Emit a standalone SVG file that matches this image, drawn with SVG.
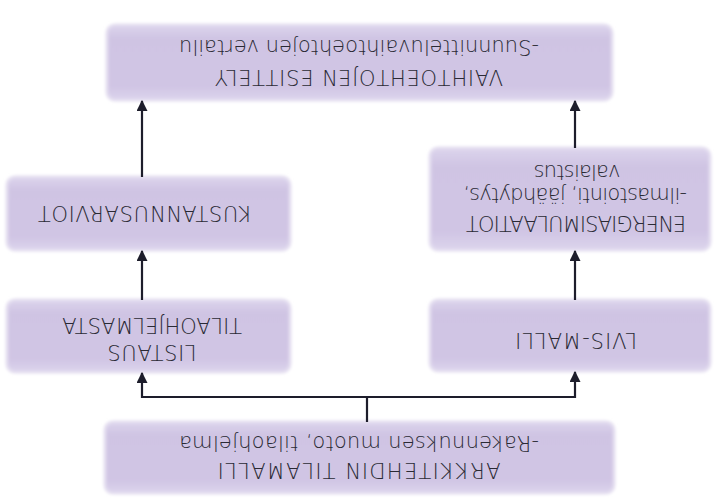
<svg xmlns="http://www.w3.org/2000/svg" width="719" height="502" viewBox="0 0 719 502">
  <style>
    .box { fill: url(#boxfill); stroke: #e4def0; stroke-width: 3; filter: url(#soft); }
    .lbl { font-family: "DejaVu Sans", "Liberation Sans", sans-serif; font-size: 21px; font-weight: 200; fill: #2a2a34; text-anchor: middle; }
    .wire { fill: none; stroke: #1d1d2b; stroke-width: 2.2; }
  </style>
  <defs>
    <linearGradient id="boxfill" x1="0" y1="0" x2="0" y2="1">
      <stop offset="0" stop-color="#dcd4ec"/>
      <stop offset="0.18" stop-color="#d0c5e4"/>
      <stop offset="0.82" stop-color="#cfc4e3"/>
      <stop offset="1" stop-color="#dcd4ec"/>
    </linearGradient>
    <filter id="soft" x="-5%" y="-20%" width="110%" height="140%">
      <feGaussianBlur stdDeviation="1.6"/>
    </filter>
    <marker id="head" viewBox="0 0 10 10" refX="9" refY="5" markerWidth="5" markerHeight="5" orient="auto" markerUnits="strokeWidth">
      <path d="M0,0 L10,5 L0,10 Z" fill="#1d1d2b"/>
    </marker>
  </defs>
  <rect width="719" height="502" fill="#ffffff"/>

  <!-- the whole chart is drawn upside down -->
  <g transform="rotate(180 359.5 251)">
    <g id="arkkitehdin">
      <rect class="box" x="105" y="9" width="509" height="71" rx="8"/>
      <text class="lbl" x="360" y="39" textLength="283" lengthAdjust="spacing">ARKKITEHDIN TILAMALLI</text>
      <text class="lbl" x="360" y="66" textLength="360" lengthAdjust="spacing">-Rakennuksen muoto, tilaohjelma</text>
    </g>

    <g id="lvis">
      <rect class="box" x="9" y="131" width="280" height="71" rx="8"/>
      <text class="lbl" x="143" y="169" textLength="122" lengthAdjust="spacing">LVIS-MALLI</text>
    </g>

    <g id="listaus">
      <rect class="box" x="429" y="130" width="283" height="72" rx="8"/>
      <text class="lbl" x="567" y="157" textLength="89" lengthAdjust="spacing">LISTAUS</text>
      <text class="lbl" x="567" y="184" textLength="180" lengthAdjust="spacing">TILAOHJELMASTA</text>
    </g>

    <g id="energia">
      <rect class="box" x="9" y="252" width="280" height="102" rx="8"/>
      <text class="lbl" x="143" y="286" textLength="220" lengthAdjust="spacing">ENERGIASIMULAATIOT</text>
      <text class="lbl" x="144" y="314" textLength="224" lengthAdjust="spacing">-ilmastointi, jäähdytys,</text>
      <text class="lbl" x="142" y="337" textLength="87" lengthAdjust="spacing">valaistus</text>
    </g>

    <g id="kustannus">
      <rect class="box" x="429" y="252" width="283" height="73" rx="8"/>
      <text class="lbl" x="574" y="296" textLength="214" lengthAdjust="spacing">KUSTANNUSARVIOT</text>
    </g>

    <g id="vaihtoehdot">
      <rect class="box" x="107" y="402" width="505" height="75" rx="8"/>
      <text class="lbl" x="360" y="432" textLength="288" lengthAdjust="spacing">VAIHTOEHTOJEN ESITTELY</text>
      <text class="lbl" x="360" y="462" textLength="360" lengthAdjust="spacing">-Suunnitteluvaihtoehtojen vertailu</text>
    </g>

    <g id="connectors">
      <path class="wire" d="M352,80 V105"/>
      <path class="wire" d="M144,105 H577"/>
      <path class="wire" d="M144,104 V130" marker-end="url(#head)"/>
      <path class="wire" d="M577,104 V129" marker-end="url(#head)"/>
      <path class="wire" d="M144,202 V251" marker-end="url(#head)"/>
      <path class="wire" d="M577,202 V251" marker-end="url(#head)"/>
      <path class="wire" d="M144,354 V401" marker-end="url(#head)"/>
      <path class="wire" d="M577,325 V401" marker-end="url(#head)"/>
    </g>
  </g>
</svg>
